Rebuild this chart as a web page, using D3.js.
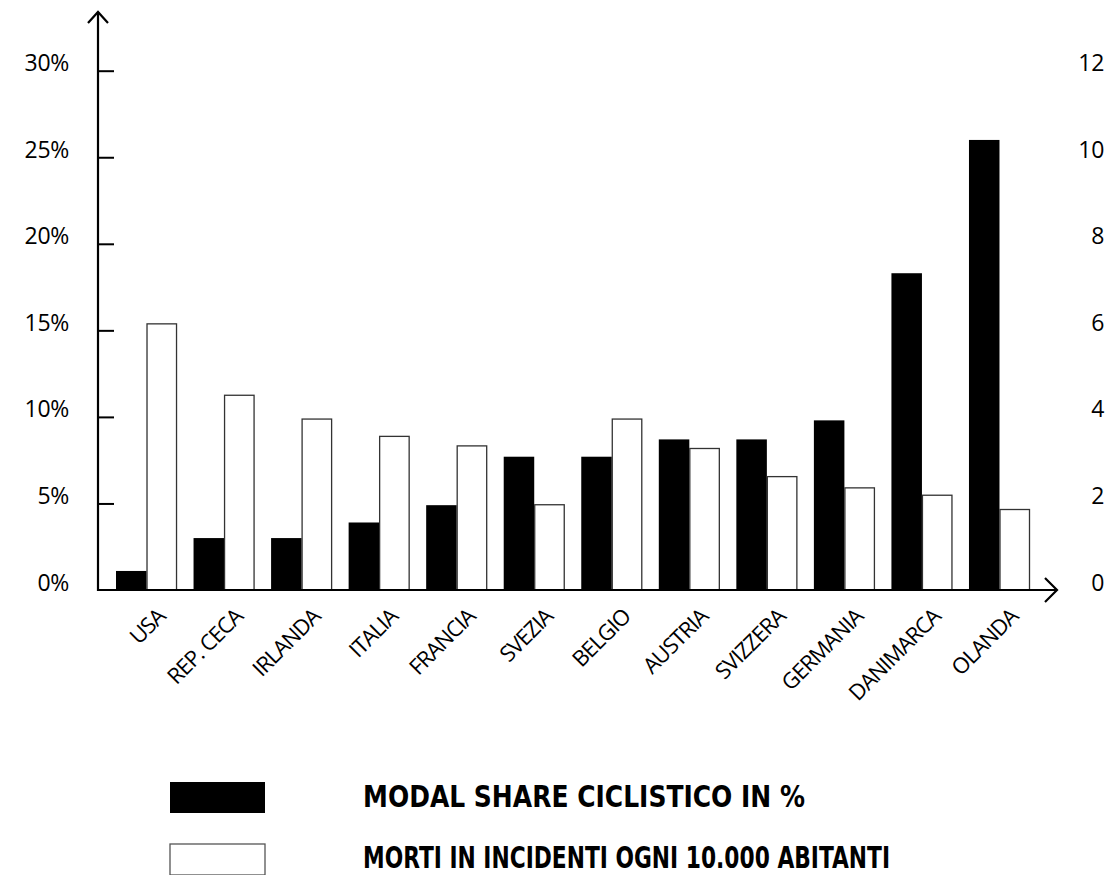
<!DOCTYPE html>
<html>
<head>
<meta charset="utf-8">
<script src="https://cdn.jsdelivr.net/npm/d3@7"></script>
<style>
  body { margin: 0; background: #fff; }
</style>
</head>
<body>
<div id="chart"></div>
<script>
// data
const countries = ['USA','REP. CECA','IRLANDA','ITALIA','FRANCIA','SVEZIA','BELGIO','AUSTRIA','SVIZZERA','GERMANIA','DANIMARCA','OLANDA'];
const modalShare = [1.1, 3, 3, 3.9, 4.9, 7.7, 7.7, 8.7, 8.7, 9.8, 18.3, 26];
const deaths = [6.15, 4.5, 3.95, 3.55, 3.33, 1.97, 3.95, 3.27, 2.62, 2.36, 2.19, 1.86];
const leftTicks = [0, 5, 10, 15, 20, 25, 30];
const rightTicks = [0, 2, 4, 6, 8, 10, 12];
const legendLabels = ['MODAL SHARE CICLISTICO IN %', 'MORTI IN INCIDENTI OGNI 10.000 ABITANTI'];

const width = 1113, height = 875;
const axisX = 98, baseY = 590, topY = 70.7;

const svg = d3.select('#chart')
              .append('svg')
              .attr('width', width)
              .attr('height', height);

let scaleX = d3.scaleBand().domain(countries).range([116, 1030]).paddingInner(0.213).paddingOuter(0);
let scaleSeries = d3.scaleBand().domain(['share','deaths']).range([0, scaleX.bandwidth()]);
let scaleL = d3.scaleLinear().domain([0, 30]).range([baseY, topY]);
let scaleR = d3.scaleLinear().domain([0, 12]).range([baseY, topY]);

let data = countries.map((c, i) => ({country: c, share: modalShare[i], deaths: deaths[i]}));

// bars
let groups = svg.selectAll('.group')
                .data(data)
                .enter()
                .append('g')
                .attr('class', 'group')
                .attr('transform', d => 'translate(' + scaleX(d.country) + ',0)');

groups.append('rect')
      .attr('x', scaleSeries('share'))
      .attr('y', d => scaleL(d.share))
      .attr('width', scaleSeries.bandwidth())
      .attr('height', d => baseY - scaleL(d.share))
      .style('fill', '#000');

groups.append('rect')
      .attr('x', scaleSeries('deaths') + 0.5)
      .attr('y', d => scaleR(d.deaths))
      .attr('width', scaleSeries.bandwidth() - 1)
      .attr('height', d => baseY - scaleR(d.deaths))
      .style('fill', '#fff')
      .style('stroke', '#333')
      .style('stroke-width', 1.3);

// axis lines with arrows
const axes = svg.append('g')
                .style('stroke', '#000')
                .style('stroke-width', 2.2)
                .style('fill', 'none');

axes.append('line').attr('x1', axisX).attr('y1', baseY + 1).attr('x2', axisX).attr('y2', 12);
axes.append('path').attr('d', 'M' + (axisX - 10) + ',23 L' + axisX + ',12 L' + (axisX + 10) + ',23');
axes.append('line').attr('x1', axisX - 1).attr('y1', baseY).attr('x2', 1057).attr('y2', baseY);
axes.append('path').attr('d', 'M1045,578 L1057,590 L1045,602');

// tick marks on the left axis
let tickAxis = d3.axisRight(scaleL).tickValues(leftTicks.slice(1)).tickSize(16).tickFormat('');
let tickGroup = svg.append('g')
                   .attr('transform', 'translate(' + axisX + ',0)')
                   .call(tickAxis);
tickGroup.select('.domain').remove();
tickGroup.selectAll('line').style('stroke', '#000').style('stroke-width', 2);

// left labels
let leftAxis = d3.axisLeft(scaleL).tickValues(leftTicks).tickSize(0).tickPadding(0).tickFormat(d => d + '%');
let leftGroup = svg.append('g')
                   .attr('transform', 'translate(69,0)')
                   .call(leftAxis);
leftGroup.select('.domain').remove();
leftGroup.selectAll('text')
         .attr('dy', '0')
         .style('font-family', '"Open Sans", sans-serif')
         .style('font-size', '23px')
         .style('letter-spacing', '-0.3px')
         .style('fill', '#000');

// right labels
let rightAxis = d3.axisLeft(scaleR).tickValues(rightTicks).tickSize(0).tickPadding(0);
let rightGroup = svg.append('g')
                    .attr('transform', 'translate(1104,0)')
                    .call(rightAxis);
rightGroup.select('.domain').remove();
rightGroup.selectAll('text')
          .attr('dy', '0')
          .style('font-family', '"Open Sans", sans-serif')
          .style('font-size', '23px')
          .style('letter-spacing', '-0.3px')
          .style('fill', '#000');

// country labels
svg.selectAll('.xlabel')
   .data(countries)
   .enter()
   .append('text')
   .attr('class', 'xlabel')
   .attr('transform', d => 'translate(' + (scaleX(d) + scaleX.bandwidth() / 2 + 20) + ',618) rotate(-45)')
   .style('text-anchor', 'end')
   .style('font-family', '"Open Sans", sans-serif')
   .style('font-size', '22px')
   .style('letter-spacing', '-1px')
   .style('fill', '#000')
   .text(d => d);

// legend
const legendY = [782, 844];
const legendBase = [807, 868];
const legendLen = [442, 527];

svg.selectAll('.legrect')
   .data(legendLabels)
   .enter()
   .append('rect')
   .attr('x', 170)
   .attr('y', (d, i) => legendY[i])
   .attr('width', 95)
   .attr('height', 31)
   .style('fill', (d, i) => i == 0 ? '#000' : '#fff')
   .style('stroke', (d, i) => i == 0 ? 'none' : '#555')
   .style('stroke-width', 1.3);

svg.selectAll('.legtext')
   .data(legendLabels)
   .enter()
   .append('text')
   .attr('x', 363)
   .attr('y', (d, i) => legendBase[i])
   .attr('textLength', (d, i) => legendLen[i])
   .attr('lengthAdjust', 'spacingAndGlyphs')
   .style('font-family', '"Liberation Sans Narrow", "DejaVu Sans Condensed", sans-serif')
   .style('font-weight', 'bold')
   .style('font-size', '30px')
   .style('fill', '#000')
   .text(d => d);
</script>
</body>
</html>
